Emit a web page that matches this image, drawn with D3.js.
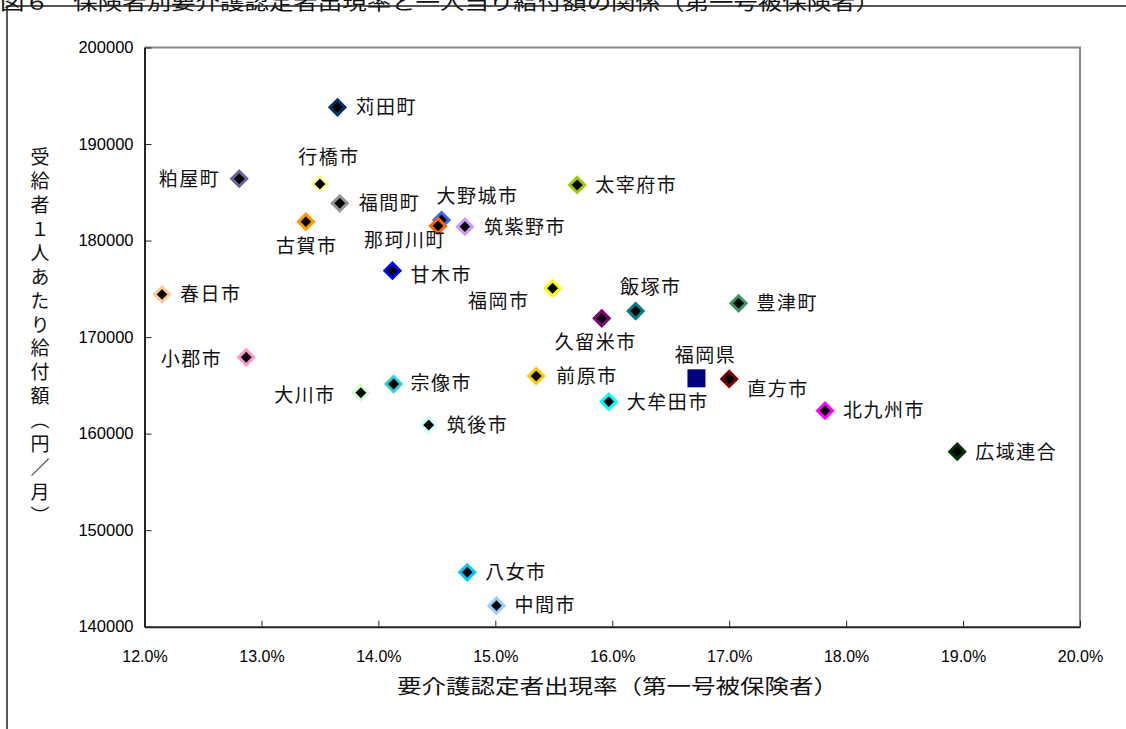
<!DOCTYPE html>
<html>
<head>
<meta charset="utf-8">
<script src="https://cdn.jsdelivr.net/npm/d3@7"></script>
<style>
  body { margin: 0; background: #fff; }
  svg { display: block; }
</style>
</head>
<body>
<svg id="chart" width="1126" height="729"></svg>
<script>
// Insurers (municipalities / union), drawn in this order
const names = [
  "苅田町", "粕屋町", "行橋市", "福間町", "古賀市", "大野城市", "那珂川町",
  "筑紫野市", "太宰府市", "甘木市", "春日市", "福岡市", "飯塚市", "久留米市",
  "豊津町", "直方市", "大牟田市", "北九州市", "広域連合", "小郡市", "大川市",
  "宗像市", "筑後市", "前原市", "八女市", "中間市"
];
// Certified care-need rate among category-1 insured (%)
const rates = [
  13.65, 12.81, 13.50, 13.67, 13.38, 14.54, 14.51,
  14.74, 15.70, 14.12, 12.15, 15.49, 16.20, 15.91,
  17.08, 17.00, 15.97, 17.82, 18.95, 12.87, 13.85,
  14.13, 14.43, 15.35, 14.76, 15.01
];
// Monthly benefit per recipient (yen)
const benefits = [
  193810, 186410, 185860, 183860, 181960, 182130, 181520,
  181440, 185760, 176880, 174430, 175060, 172700, 171950,
  173500, 165660, 163310, 162380, 158130, 167910, 164240,
  165140, 160900, 165970, 145640, 142180
];
// Outline colour of each diamond
const strokeColors = [
  "#003366", "#666699", "#FFFF99", "#969696", "#FF9900", "#3366FF", "#FF6600",
  "#CC99FF", "#99CC00", "#0000FF", "#FFCC99", "#FFFF00", "#008080", "#800080",
  "#339966", "#800000", "#00FFFF", "#FF00FF", "#003300", "#FF99CC", "#CCFFCC",
  "#33CCCC", "#CCFFFF", "#FFCC00", "#00CCFF", "#99CCFF"
];
// Label placement relative to its marker: [text-anchor, dx, dy]
const labelAnchor = [
  ["start", 18, 0], ["end", -19, 0], ["middle", 9, -27], ["start", 19, 0],
  ["middle", 1, 25], ["middle", 36, -24], ["middle", -33, 14],
  ["start", 19, 0], ["start", 18, 0], ["start", 18, 4], ["start", 18, 0],
  ["end", -23, 13], ["middle", 15, -24], ["middle", -6, 24],
  ["start", 18, 0], ["start", 18, 10], ["start", 18, 0], ["start", 18, 0],
  ["start", 18, 0], ["end", -24, 2], ["end", -25, 2],
  ["start", 17, -1], ["start", 18, 0], ["start", 20, 0], ["start", 18, 0], ["start", 18, 0]
];
// Prefecture-wide value, drawn as a square
const prefName = "福岡県";
const prefRate = 16.72;
const prefBenefit = 165730;
const prefLabel = ["middle", 9, -23];

const xTicks = [12, 13, 14, 15, 16, 17, 18, 19, 20];
const yTicks = [140000, 150000, 160000, 170000, 180000, 190000, 200000];

const titleText = "図６　保険者別要介護認定者出現率と一人当り給付額の関係（第一号被保険者）";
const xTitle = "要介護認定者出現率（第一号被保険者）";
const yTitle = "受給者１人あたり給付額（円／月）";

const svg = d3.select("#chart");
const cjk = "'Noto Sans CJK JP', 'Noto Sans', sans-serif";
const latin = "'Liberation Sans', Arial, sans-serif";

const plot = { left: 144.5, right: 1080, top: 47.5, bottom: 626.7 };

const x = d3.scaleLinear().domain([12, 20]).range([plot.left, plot.right]);
const y = d3.scaleLinear().domain([140000, 200000]).range([plot.bottom, plot.top]);

// Frame of the figure; the heading sits partly above the top edge
svg.append("text")
  .attr("x", 0).attr("y", 10)
  .attr("font-family", cjk).attr("font-size", 20)
  .attr("textLength", 880).attr("lengthAdjust", "spacingAndGlyphs")
  .attr("fill", "#111")
  .text(titleText);
svg.append("path")
  .attr("d", "M7,729 L7,6 L1126,6")
  .attr("fill", "none").attr("stroke", "#222").attr("stroke-width", 1.5);

// Plot area border (top and right)
svg.append("path")
  .attr("d", `M${plot.left},${plot.top} L${plot.right},${plot.top} L${plot.right},${plot.bottom}`)
  .attr("fill", "none").attr("stroke", "#8a8a8a").attr("stroke-width", 2);

// Axes with inward ticks
const xAxis = d3.axisBottom(x).tickValues(xTicks).tickSizeInner(-6).tickSizeOuter(0)
  .tickFormat(d => d3.format(".1f")(d) + "%").tickPadding(24);
const yAxis = d3.axisLeft(y).tickValues(yTicks).tickSizeInner(-7).tickSizeOuter(0)
  .tickFormat(d3.format("d")).tickPadding(11);

const gx = svg.append("g").attr("transform", `translate(0,${plot.bottom})`).call(xAxis);
const gy = svg.append("g").attr("transform", `translate(${plot.left},0)`).call(yAxis);

[gx, gy].forEach(g => {
  g.select(".domain").attr("stroke", "#222").attr("stroke-width", 2);
  g.selectAll(".tick line").attr("stroke", "#222").attr("stroke-width", 1);
  g.selectAll(".tick text").attr("font-family", latin).attr("fill", "#000");
});
gx.selectAll(".tick text").attr("font-size", 16);
gy.selectAll(".tick text").attr("font-size", 16.5);

// Axis titles
svg.append("text")
  .attr("x", 397).attr("y", 694)
  .attr("font-family", cjk).attr("font-size", 20)
  .attr("textLength", 441).attr("lengthAdjust", "spacingAndGlyphs")
  .attr("fill", "#111")
  .text(xTitle);

// Vertical (upright) y-axis title
svg.append("text")
  .attr("x", 40).attr("y", 147.5)
  .style("writing-mode", "vertical-rl")
  .style("text-orientation", "upright")
  .style("letter-spacing", "4.9px")
  .attr("font-family", cjk).attr("font-size", 19)
  .attr("fill", "#111")
  .text(yTitle);

// Data points
const points = names.map((n, i) => ({
  name: n, rate: rates[i], benefit: benefits[i],
  color: strokeColors[i], anchor: labelAnchor[i]
}));

const r = 7.5;
const diamond = `M0,${-r} L${r},0 L0,${r} L${-r},0 Z`;

svg.append("g").selectAll("path")
  .data(points)
  .join("path")
  .attr("d", diamond)
  .attr("transform", d => `translate(${x(d.rate)},${y(d.benefit)})`)
  .attr("fill", "#000")
  .attr("stroke", d => d.color)
  .attr("stroke-width", 3)
  .attr("stroke-linejoin", "miter");

// Prefecture square
const sq = 18;
svg.append("rect")
  .attr("x", x(prefRate) - sq / 2).attr("y", y(prefBenefit) - sq / 2)
  .attr("width", sq).attr("height", sq)
  .attr("fill", "#000080");

// Labels
const labelData = points.concat([{ name: prefName, rate: prefRate, benefit: prefBenefit, anchor: prefLabel }]);
svg.append("g").selectAll("text")
  .data(labelData)
  .join("text")
  .attr("x", d => x(d.rate) + d.anchor[1])
  .attr("y", d => y(d.benefit) + d.anchor[2])
  .attr("dy", "0.36em")
  .attr("text-anchor", d => d.anchor[0])
  .attr("font-family", cjk).attr("font-size", 19)
  .attr("letter-spacing", 1.5)
  .attr("fill", "#111")
  .text(d => d.name);
</script>
</body>
</html>
